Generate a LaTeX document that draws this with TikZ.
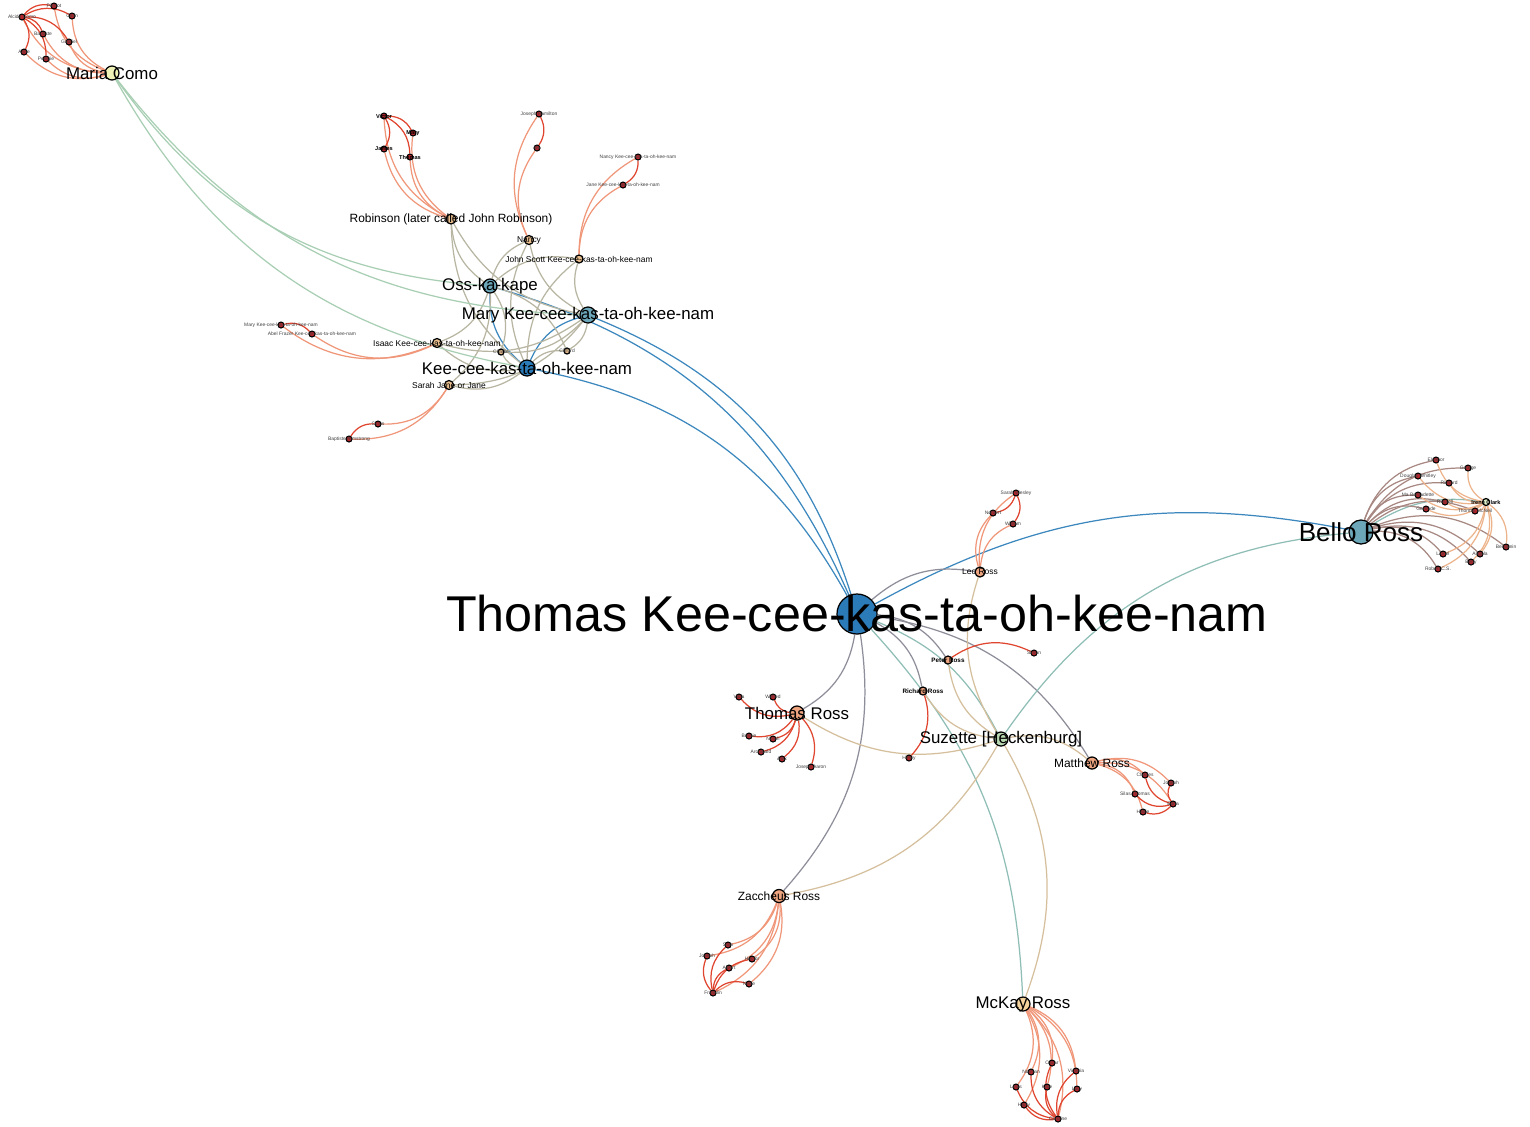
\documentclass[tikz,border=0pt]{standalone}
\usepackage{fontspec}
\setmainfont{Liberation Sans}
\usetikzlibrary{backgrounds}

\definecolor{hubBlue}{HTML}{2B7BB9}
\definecolor{tealNode}{HTML}{6BA6B9}
\definecolor{sageNode}{HTML}{B9D9B3}
\definecolor{creamNode}{HTML}{EEF2B6}
\definecolor{peachNode}{HTML}{F4D49C}
\definecolor{salmonNode}{HTML}{EDA47F}
\definecolor{tanNode}{HTML}{EBC08F}
\definecolor{leafRed}{HTML}{B5242A}
\definecolor{mintNode}{HTML}{DDEFC9}

\definecolor{edgeBlue}{HTML}{3C88BE}
\definecolor{edgeGray}{HTML}{8E8E9A}
\definecolor{edgeGreen}{HTML}{A8CFB4}
\definecolor{edgeTan}{HTML}{B8B6A2}
\definecolor{edgeRed}{HTML}{E0452F}
\definecolor{edgeOrange}{HTML}{F0977A}
\definecolor{edgeBrown}{HTML}{A88882}
\definecolor{edgeSuz}{HTML}{D5BF9C}
\definecolor{edgeTeal}{HTML}{8FBEB6}
\definecolor{edgePeach}{HTML}{EDB48C}

\tikzset{
  person/.style={circle, draw=black, line width=0.35pt, inner sep=0pt},
  leaf/.style={person, fill=leafRed, minimum size=0.6mm, line width=0.3pt},
  nameXL/.style={inner sep=0pt, font=\fontsize{14.3}{15}\selectfont},
  nameL/.style={inner sep=0pt, font=\fontsize{7.4}{8}\selectfont},
  nameM/.style={inner sep=0pt, font=\fontsize{4.8}{5}\selectfont},
  nameS/.style={inner sep=0pt, font=\fontsize{3.4}{4}\selectfont},
  nameXS/.style={inner sep=0pt, font=\fontsize{2.4}{3}\selectfont},
  nameB/.style={inner sep=0pt, font=\fontsize{1.8}{2}\selectfont\bfseries},
  nameT/.style={inner sep=0pt, text=black!75, font=\fontsize{1.4}{1.6}\selectfont},
  nameTB/.style={inner sep=0pt, font=\fontsize{1.6}{1.8}\selectfont\bfseries},
  kin/.style={line width=0.35pt},
  blueEdge/.style={kin, draw=edgeBlue},
  grayEdge/.style={kin, draw=edgeGray},
  greenEdge/.style={kin, draw=edgeGreen},
  tanEdge/.style={kin, draw=edgeTan},
  redEdge/.style={kin, draw=edgeRed},
  orangeEdge/.style={kin, draw=edgeOrange},
  brownEdge/.style={kin, draw=edgeBrown},
  suzEdge/.style={kin, draw=edgeSuz},
  tealEdge/.style={kin, draw=edgeTeal},
  peachEdge/.style={kin, draw=edgePeach}
}

\begin{document}
\begin{tikzpicture}[x=0.01cm, y=-0.01cm]
\useasboundingbox (0,0) rectangle (1530,1126);

% main family
\node[person, fill=hubBlue, minimum size=4mm, label={[nameXL]center:Thomas Kee-cee-kas-ta-oh-kee-nam}] (thomas) at (857,614) {};
\node[person, fill=hubBlue, minimum size=1.6mm, label={[nameM]center:Kee-cee-kas-ta-oh-kee-nam}] (kee) at (527,368) {};
\node[person, fill=tealNode, minimum size=1.6mm, label={[nameM]center:Mary Kee-cee-kas-ta-oh-kee-nam}] (marykee) at (588,315) {};
\node[person, fill=tealNode, minimum size=1.4mm, label={[nameM]center:Oss-ka-kape}] (oss) at (490,286) {};
\node[person, fill=tealNode, minimum size=2.4mm, label={[nameL]center:Bello Ross}] (bello) at (1361,532) {};
\node[person, fill=sageNode, minimum size=1.4mm, label={[nameM]center:{Suzette [Heckenburg]}}] (suzette) at (1001,739) {};
\node[person, fill=creamNode, minimum size=1.4mm, label={[nameM]center:Maria Como}] (maria) at (112,73) {};

% children of Kee-cee-kas-ta-oh-kee-nam
\node[person, fill=tanNode, minimum size=1mm, label={[nameS]center:Robinson (later called John Robinson)}] (robinson) at (451,219) {};
\node[person, fill=tanNode, minimum size=0.9mm, label={[nameXS]center:Nancy}] (nancy) at (529,240) {};
\node[person, fill=tanNode, minimum size=0.8mm, label={[nameXS]center:John Scott Kee-cee-kas-ta-oh-kee-nam}] (johnscott) at (579,259) {};
\node[person, fill=tanNode, minimum size=0.9mm, label={[nameXS]center:Isaac Kee-cee-kas-ta-oh-kee-nam}] (isaac) at (437,343) {};
\node[person, fill=tanNode, minimum size=0.6mm, label={[nameT]center:Charlie}] (charlie) at (501,352) {};
\node[person, fill=tanNode, minimum size=0.6mm, label={[nameT]center:Clifford}] (clifford) at (567,351) {};
\node[person, fill=tanNode, minimum size=0.9mm, label={[nameXS]center:Sarah Jane or Jane}] (sarahjane) at (449,385) {};

% children of Thomas
\node[person, fill=salmonNode, minimum size=1.4mm, label={[nameM]center:Thomas Ross}] (thomasross) at (797,713) {};
\node[person, fill=salmonNode, minimum size=1.3mm, label={[nameS]center:Zaccheus Ross}] (zaccheus) at (779,896) {};
\node[person, fill=salmonNode, minimum size=1.2mm, label={[nameS]center:Matthew Ross}] (matthew) at (1092,763) {};
\node[person, fill=peachNode, minimum size=1.4mm, label={[nameM]center:McKay Ross}] (mckay) at (1023,1004) {};
\node[person, fill=salmonNode, minimum size=1mm, label={[nameXS]center:Leo Ross}] (leo) at (980,572) {};
\node[person, fill=salmonNode, minimum size=0.8mm, label={[nameB]center:Peter Ross}] (peter) at (948,660) {};
\node[person, fill=salmonNode, minimum size=0.8mm, label={[nameB]center:Richard Ross}] (richard) at (923,691) {};

% Maria Como's family
\node[leaf, label={[nameT]center:Alcide Como}] (alcide) at (22,17) {};
\node[leaf, label={[nameT]center:Pierrot}] (pierrot) at (54,6) {};
\node[leaf, label={[nameT]center:Catin}] (catin) at (72,16) {};
\node[leaf, label={[nameT]center:Baptiste}] (baptiste) at (43,34) {};
\node[leaf, label={[nameT]center:Gabriel}] (gabriel) at (69,42) {};
\node[leaf, label={[nameT]center:Anne}] (anne) at (24,52) {};
\node[leaf, label={[nameT]center:Pelagie}] (pelagie) at (46,59) {};

% Robinson's family
\node[leaf, label={[nameTB]center:Victor}] (victor) at (384,116) {};
\node[leaf, label={[nameTB]center:Mary}] (marya) at (413,133) {};
\node[leaf, label={[nameTB]center:James}] (james) at (384,149) {};
\node[leaf, label={[nameTB]center:Thomas}] (thomasr) at (410,157) {};

% Nancy's family
\node[leaf, label={[nameT]center:Joseph Hamilton}] (josephh) at (539,114) {};
\node[leaf, label={[nameT]center:Ida}] (ida) at (537,148) {};

% John Scott's family
\node[leaf, label={[nameT]center:Nancy Kee-cee-kas-ta-oh-kee-nam}] (nancyk) at (638,157) {};
\node[leaf, label={[nameT]center:Jane Kee-cee-kas-ta-oh-kee-nam}] (janek) at (623,185) {};

% Isaac's family
\node[leaf, label={[nameT]center:Mary Kee-cee-kas-ta-oh-kee-nam}] (maryk) at (281,325) {};
\node[leaf, label={[nameT]center:Abel Frazer Kee-cee-kas-ta-oh-kee-nam}] (abel) at (312,334) {};

% Sarah Jane's family
\node[leaf, label={[nameT]center:Cyrus}] (cyrus) at (378,424) {};
\node[leaf, label={[nameT]center:Baptiste Armstrong}] (baptistea) at (349,439) {};

% Bello Ross's family
\node[person, fill=mintNode, minimum size=0.7mm, label={[nameTB]center:Irene Clark}] (irene) at (1486,502) {};
\node[leaf, label={[nameT]center:Eleanor}] (eleanor) at (1436,460) {};
\node[leaf, label={[nameT]center:George}] (george) at (1468,468) {};
\node[leaf, label={[nameT]center:Douglas Whitley}] (douglas) at (1418,476) {};
\node[leaf, label={[nameT]center:Richard}] (richardb) at (1449,483) {};
\node[leaf, label={[nameT]center:Ma Bernadette}] (bernadette) at (1418,495) {};
\node[leaf, label={[nameT]center:Russell}] (russell) at (1445,502) {};
\node[leaf, label={[nameT]center:Gertrude}] (gertrude) at (1426,509) {};
\node[leaf, label={[nameT]center:Thomas McNeil}] (thomasmc) at (1475,511) {};
\node[leaf, label={[nameT]center:Benjamin}] (benjamin) at (1506,547) {};
\node[leaf, label={[nameT]center:Lionel}] (lionel) at (1443,554) {};
\node[leaf, label={[nameT]center:Angela}] (angela) at (1480,554) {};
\node[leaf, label={[nameT]center:Betty}] (betty) at (1471,562) {};
\node[leaf, label={[nameT]center:Robert C.S.}] (robert) at (1438,569) {};

% Leo Ross's family
\node[leaf, label={[nameT]center:Sarah Wesley}] (sarahw) at (1016,493) {};
\node[leaf, label={[nameT]center:Norbert}] (norbert) at (993,513) {};
\node[leaf, label={[nameT]center:William}] (william) at (1013,524) {};

% Peter and Richard
\node[leaf, label={[nameT]center:Simon}] (simon) at (1034,653) {};
\node[leaf, label={[nameT]center:Henry}] (henry) at (909,758) {};

% Thomas Ross's family
\node[leaf, label={[nameT]center:Viola}] (viola) at (739,697) {};
\node[leaf, label={[nameT]center:Wilfred}] (wilfred) at (773,697) {};
\node[leaf, label={[nameT]center:Bessie}] (bessie) at (749,736) {};
\node[leaf, label={[nameT]center:Norah}] (norah) at (773,739) {};
\node[leaf, label={[nameT]center:Archibald}] (archibald) at (761,752) {};
\node[leaf, label={[nameT]center:Alex}] (alex) at (782,759) {};
\node[leaf, label={[nameT]center:Joseph Aaron}] (josepha) at (811,767) {};

% Matthew Ross's family
\node[leaf, label={[nameT]center:Charles}] (charles) at (1145,775) {};
\node[leaf, label={[nameT]center:Joseph}] (josephm) at (1171,783) {};
\node[leaf, label={[nameT]center:Silas Thomas}] (silas) at (1135,794) {};
\node[leaf, label={[nameT]center:Edna}] (edna) at (1173,804) {};
\node[leaf, label={[nameT]center:Hattie}] (hattie) at (1143,812) {};

% Zaccheus Ross's family
\node[leaf, label={[nameT]center:Sam}] (sam) at (728,945) {};
\node[leaf, label={[nameT]center:Joseph}] (josephz) at (707,956) {};
\node[leaf, label={[nameT]center:Hector}] (hector) at (752,959) {};
\node[leaf, label={[nameT]center:Albert}] (albert) at (729,968) {};
\node[leaf, label={[nameT]center:Nellie}] (nellie) at (749,984) {};
\node[leaf, label={[nameT]center:Franklin}] (franklin) at (713,993) {};

% McKay Ross's family
\node[leaf, label={[nameT]center:Norman}] (norman) at (1031,1072) {};
\node[leaf, label={[nameT]center:Oscar}] (oscar) at (1052,1063) {};
\node[leaf, label={[nameT]center:Victoria}] (victoria) at (1076,1071) {};
\node[leaf, label={[nameT]center:Louis}] (louis) at (1016,1087) {};
\node[leaf, label={[nameT]center:Kate}] (kate) at (1047,1087) {};
\node[leaf, label={[nameT]center:Lucy}] (lucy) at (1077,1089) {};
\node[leaf, label={[nameT]center:Harry}] (harry) at (1024,1105) {};
\node[leaf, label={[nameT]center:Caroline}] (caroline) at (1058,1119) {};

\begin{scope}[on background layer]
\fill[white] (0,0) rectangle (1530,1126);

% hub connections
\foreach \p in {kee,oss,marykee}
  \draw[blueEdge] (\p) to[bend left=25] (thomas);
\draw[blueEdge] (kee) to[bend left=25] (oss);
\draw[blueEdge] (kee) to[bend left=25] (marykee);
\draw[blueEdge] (thomas) to[bend left=20] (bello);
\draw[tealEdge] (thomas) to[bend left=20] (suzette);
\draw[tealEdge] (thomas) to[bend left=20] (mckay);
\foreach \c in {leo,thomasross,zaccheus,matthew,peter,richard}
  \draw[grayEdge] (thomas) to[bend left=25] (\c);

% Suzette's children
\draw[tealEdge] (suzette) to[bend left=25] (bello);
\foreach \c in {leo,thomasross,zaccheus,mckay,matthew,peter,richard}
  \draw[suzEdge] (suzette) to[bend left=25] (\c);

% Kee-cee-kas-ta-oh-kee-nam's children
\foreach \p in {kee,oss,marykee}
  \foreach \c in {robinson,nancy,johnscott,isaac,charlie,clifford,sarahjane}
    \draw[tanEdge] (\p) to[bend left=25] (\c);
\foreach \p in {kee,oss,marykee}
  \draw[greenEdge] (\p) to[bend left=25] (maria);

% Maria Como
\foreach \c in {alcide,pierrot,catin,baptiste,gabriel,anne,pelagie}
  \draw[orangeEdge] (maria) to[bend left=30] (\c);
\foreach \c in {pierrot,catin,baptiste,gabriel,anne,pelagie}
  \draw[redEdge] (alcide) to[bend left=30] (\c);

% Robinson
\foreach \c in {victor,marya,james,thomasr}
  \draw[orangeEdge] (robinson) to[bend left=30] (\c);
\foreach \c in {marya,james,thomasr}
  \draw[redEdge] (victor) to[bend left=30] (\c);

% Nancy, John Scott, Isaac, Sarah Jane
\foreach \c in {josephh,ida}
  \draw[orangeEdge] (nancy) to[bend left=30] (\c);
\draw[redEdge] (josephh) to[bend left=30] (ida);
\foreach \c in {nancyk,janek}
  \draw[orangeEdge] (johnscott) to[bend left=30] (\c);
\draw[redEdge] (nancyk) to[bend left=30] (janek);
\foreach \c in {maryk,abel}
  \draw[orangeEdge] (isaac) to[bend left=30] (\c);
\draw[redEdge] (maryk) to[bend left=30] (abel);
\foreach \c in {cyrus,baptistea}
  \draw[orangeEdge] (sarahjane) to[bend left=30] (\c);
\draw[redEdge] (baptistea) to[bend left=30] (cyrus);

% Bello Ross
\draw[tealEdge] (bello) to[bend left=20] (irene);
\foreach \c in {eleanor,george,douglas,richardb,bernadette,russell,gertrude,thomasmc,benjamin,lionel,angela,betty,robert}
  \draw[brownEdge] (bello) to[bend left=30] (\c);
\foreach \c in {eleanor,george,douglas,richardb,bernadette,russell,gertrude,thomasmc,benjamin,lionel,angela,betty,robert}
  \draw[peachEdge] (irene) to[bend left=30] (\c);

% Leo Ross
\foreach \c in {sarahw,norbert,william}
  \draw[orangeEdge] (leo) to[bend left=30] (\c);
\foreach \c in {norbert,william}
  \draw[redEdge] (sarahw) to[bend left=30] (\c);

% Peter and Richard
\draw[redEdge] (peter) to[bend left=30] (simon);
\draw[redEdge] (richard) to[bend left=30] (henry);

% Thomas Ross
\foreach \c in {viola,wilfred,bessie,norah,archibald,alex,josepha}
  \draw[redEdge] (thomasross) to[bend left=30] (\c);

% Matthew Ross
\foreach \c in {charles,josephm,silas,edna,hattie}
  \draw[orangeEdge] (matthew) to[bend left=30] (\c);
\foreach \c in {charles,josephm,silas,hattie}
  \draw[redEdge] (edna) to[bend left=30] (\c);

% Zaccheus Ross
\foreach \c in {sam,josephz,hector,albert,nellie,franklin}
  \draw[orangeEdge] (zaccheus) to[bend left=30] (\c);
\foreach \c in {sam,josephz,hector,albert,nellie}
  \draw[redEdge] (franklin) to[bend left=30] (\c);

% McKay Ross
\foreach \c in {norman,oscar,victoria,louis,kate,lucy,harry,caroline}
  \draw[orangeEdge] (mckay) to[bend left=30] (\c);
\foreach \c in {norman,oscar,victoria,louis,kate,lucy,harry}
  \draw[redEdge] (caroline) to[bend left=30] (\c);
\end{scope}
\end{tikzpicture}
\end{document}
